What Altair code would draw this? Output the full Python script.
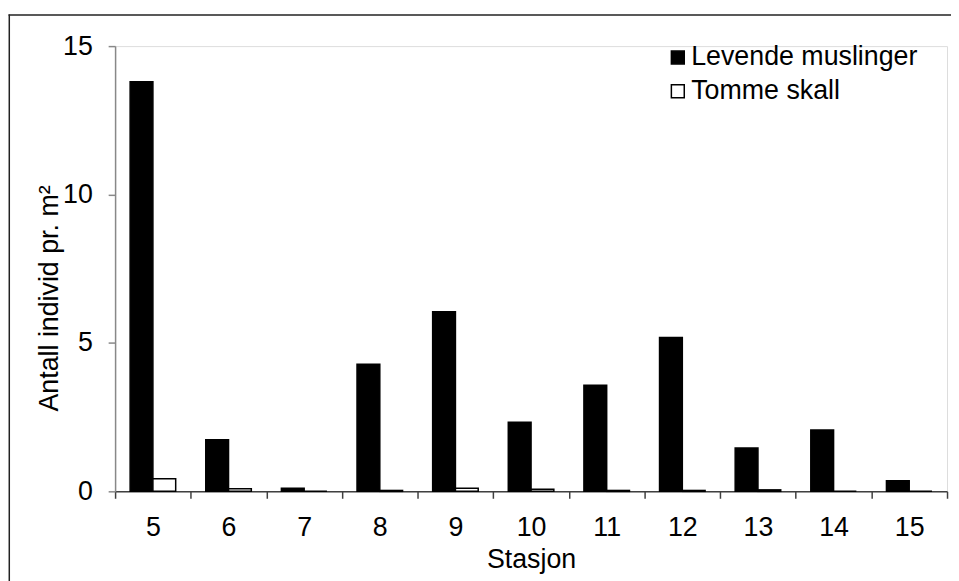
import altair as alt
import pandas as pd

stasjon = [5, 6, 7, 8, 9, 10, 11, 12, 13, 14, 15]
levende = [13.8, 1.74, 0.1, 4.28, 6.05, 2.33, 3.57, 5.18, 1.46, 2.07, 0.36]
tomme = [0.42, 0.09, 0.0, 0.03, 0.1, 0.07, 0.03, 0.03, 0.05, 0.0, 0.0]
serier = ["Levende muslinger", "Tomme skall"]
y_ticks = [0, 5, 10, 15]

rows = []
for s, lv, tm in zip(stasjon, levende, tomme):
    rows.append({"Stasjon": s, "serie": serier[0], "verdi": lv})
    rows.append({"Stasjon": s, "serie": serier[1], "verdi": tm})
df = pd.DataFrame(rows)

FONT = "Liberation Sans"
FS = 27

bars = alt.Chart(df).mark_bar(stroke="black", strokeWidth=1.5).encode(
    x=alt.X(
        "Stasjon:N",
        sort=stasjon,
        scale=alt.Scale(paddingInner=0, paddingOuter=0),
        axis=alt.Axis(
            title="Stasjon",
            labelAngle=0,
            tickBand="extent",
            tickSize=7,
            labelPadding=17,
            titleY=77,
            titleBaseline="alphabetic",
            domainColor="#404040",
            tickColor="#404040",
            domainWidth=1.5,
            tickWidth=1.5,
        ),
    ),
    xOffset=alt.XOffset(
        "serie:N",
        sort=serier,
        scale=alt.Scale(paddingInner=0, paddingOuter=0.66),
    ),
    y=alt.Y(
        "verdi:Q",
        scale=alt.Scale(domain=[0, 15], nice=False),
        axis=alt.Axis(
            title="Antall individ pr. m²",
            values=y_ticks,
            grid=False,
            tickSize=7,
            labelPadding=16,
            titleX=-58,
            titleY=254,
            titleBaseline="alphabetic",
            domainColor="#888888",
            tickColor="#888888",
            domainWidth=1.5,
            tickWidth=1.5,
        ),
    ),
    color=alt.Color(
        "serie:N",
        sort=serier,
        scale=alt.Scale(domain=serier, range=["black", "white"]),
        legend=alt.Legend(
            title=None,
            orient="none",
            legendX=554,
            legendY=-2,
            symbolType="square",
            symbolSize=169,
            symbolStrokeColor="black",
            symbolStrokeWidth=1.5,
            labelOffset=0,
            labelLimit=0,
            rowPadding=6,
            padding=0,
        ),
    ),
)

one = alt.Data(values=[{"a": 1}])
frame_top = alt.Chart(one).mark_rule(color="#222222", strokeWidth=1.5).encode(
    x=alt.value(-107.5),
    x2=alt.value(3000),
    y=alt.value(-31.3),
)
frame_left = alt.Chart(one).mark_rule(color="#222222", strokeWidth=1.5).encode(
    x=alt.value(-106.7),
    y=alt.value(-32),
    y2=alt.value(3000),
)

chart = (
    alt.layer(bars, frame_top, frame_left)
    .properties(
        width=839,
        height=449,
        autosize=alt.AutoSizeParams(type="none"),
        padding={"left": 108, "top": 36, "right": 4, "bottom": 88},
    )
    .configure_view(stroke=None)
    .configure(font=FONT)
    .configure_axis(
        labelFont=FONT,
        titleFont=FONT,
        labelFontSize=FS,
        titleFontSize=FS,
        labelColor="black",
        titleColor="black",
        titleFontWeight="normal",
    )
    .configure_legend(labelFont=FONT, labelFontSize=FS, labelColor="black")
)

chart.save("out.html", embed_options={"renderer": "svg", "actions": False})
